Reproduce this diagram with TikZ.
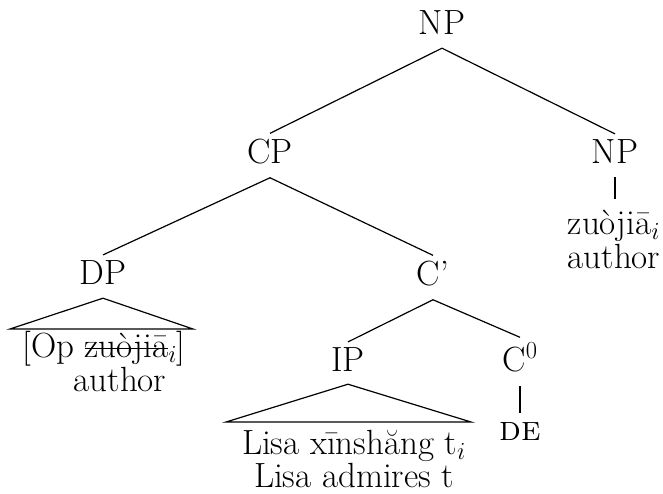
\RequirePackage{fix-cm}
\documentclass[tikz,border=0pt]{standalone}
% struck-through word: a thin rule through the middle of the x-height
\newcommand\strikeword[1]{\setbox0\hbox{#1}\rlap{\rule[0.5ex]{\wd0}{0.035em}}\box0}
\begin{document}
\begin{tikzpicture}[x=1pt,y=-1pt,
  every node/.style={inner sep=0pt, font=\fontsize{35}{40}\selectfont},
  lbl/.style={anchor=base},
  branch/.style={line width=1.2pt},
]
\useasboundingbox (0,0) rectangle (663,493);

% category labels
\node[lbl] (np0) at (442,34)  {NP};
\node[lbl] (cp)  at (270,163) {CP};
\node[lbl] (npr) at (615,163) {NP};
\node[lbl] (dp)  at (103,284) {DP};
\node[lbl] (cbar) at (433,285) {C'};
\node[lbl] (ip)  at (348,371) {IP};
\node[lbl] (c0)  at (520,371) {C$^0$};

% leaves
\node[lbl] (npw)  at (614,234) {zuòjiā$_i$};
\node[lbl] (npg)  at (614,268) {author};
\node[lbl] (dpw)  at (104,357) {[Op \strikeword{zuòjiā}$_i$]};
\node[lbl] (dpg)  at (120,391) {author};
\node[lbl] (ipw)  at (354,454) {Lisa xīnshăng t$_i$};
\node[lbl] (ipg)  at (354,487) {Lisa admires t};
\node[lbl] (de)   at (520,440) {\textsc{de}};

% triangle base corners
\coordinate (dpL) at (10,329);
\coordinate (dpR) at (193,329);
\coordinate (ipL) at (226,422);
\coordinate (ipR) at (471,422);

% branches
\draw[branch] ([yshift=-14pt]np0.south) -- ([yshift=5pt]cp.north);
\draw[branch] ([yshift=-14pt]np0.south) -- ([yshift=5pt]npr.north);
\draw[branch] ([yshift=-14pt]cp.south) -- ([yshift=5pt]dp.north);
\draw[branch] ([yshift=-14pt]cp.south) -- ([yshift=5pt]cbar.north);
\draw[branch] ([yshift=-14pt]cbar.south) -- ([yshift=5pt]ip.north);
\draw[branch] ([yshift=-14pt]cbar.south) -- ([yshift=5pt]c0.north);

% unary branches
\draw[branch] ([yshift=-14pt]npr.south) -- ([yshift=-36pt]npr.south);
\draw[branch] ([yshift=-14pt]c0.south) -- ([yshift=-41pt]c0.south);

% roof triangles
\draw[branch] ([yshift=-14pt]dp.south) -- (dpL) -- (dpR) -- cycle;
\draw[branch] ([yshift=-13pt]ip.south) -- (ipL) -- (ipR) -- cycle;
\end{tikzpicture}
\end{document}
